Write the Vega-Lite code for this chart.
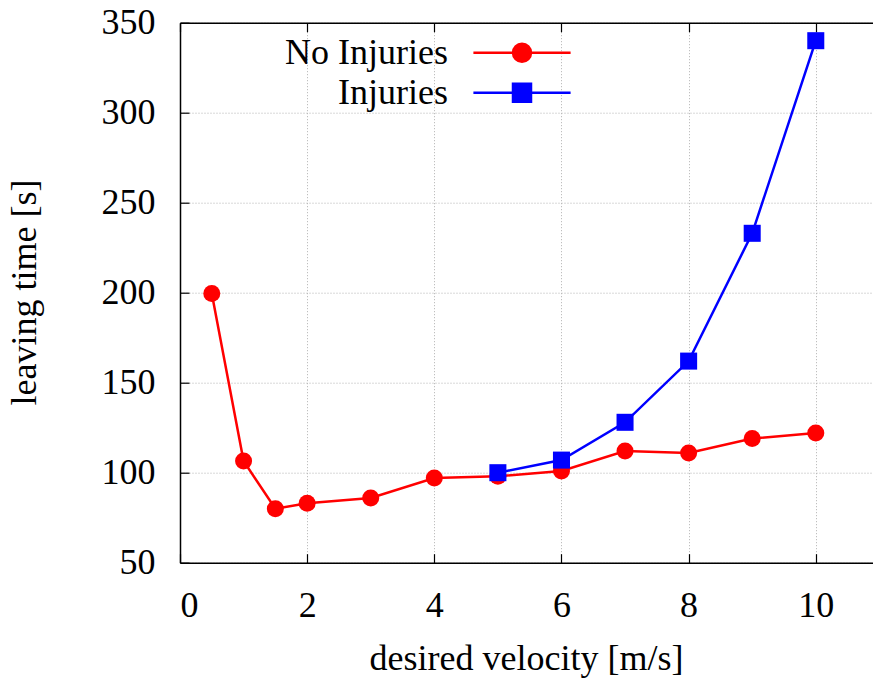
{
  "$schema": "https://vega.github.io/schema/vega-lite/v6.json",
  "width": 693,
  "height": 540,
  "autosize": "none",
  "padding": {"left": 180, "top": 22.7, "right": 0, "bottom": 120.3},
  "background": "white",
  "config": {
    "font": "Liberation Serif",
    "view": {"stroke": null},
    "axis": {
      "labelFont": "Liberation Serif",
      "titleFont": "Liberation Serif",
      "labelFontSize": 36,
      "titleFontSize": 36,
      "titleFontWeight": "normal",
      "labelColor": "#000000",
      "titleColor": "#000000",
      "domainColor": "#000000",
      "domainWidth": 1.5,
      "tickColor": "#000000",
      "tickWidth": 1.2,
      "tickSize": -9,
      "gridColor": "#b0b0b0",
      "gridDash": [1, 2],
      "gridWidth": 1
    },
    "legend": {
      "labelFont": "Liberation Serif",
      "title": null,
      "orient": "none",
      "legendX": 324,
      "legendY": 12,
      "padding": 0,
      "labelFontSize": 36,
      "labelColor": "#000000",
      "labelAlign": "right",
      "labelBaseline": "middle",
      "labelOffset": -92,
      "labelLimit": 0,
      "rowPadding": 4,
      "symbolSize": 324,
      "symbolStrokeWidth": 2.5,
      "symbolOpacity": 1
    }
  },
  "data": {
    "values": [
      {"v": 0.5, "t": 199.5, "series": "No Injuries"},
      {"v": 1, "t": 106.5, "series": "No Injuries"},
      {"v": 1.5, "t": 80, "series": "No Injuries"},
      {"v": 2, "t": 83, "series": "No Injuries"},
      {"v": 3, "t": 86, "series": "No Injuries"},
      {"v": 4, "t": 97, "series": "No Injuries"},
      {"v": 5, "t": 98, "series": "No Injuries"},
      {"v": 6, "t": 101, "series": "No Injuries"},
      {"v": 7, "t": 112, "series": "No Injuries"},
      {"v": 8, "t": 111, "series": "No Injuries"},
      {"v": 9, "t": 119, "series": "No Injuries"},
      {"v": 10, "t": 122, "series": "No Injuries"},
      {"v": 5, "t": 100, "series": "Injuries"},
      {"v": 6, "t": 107, "series": "Injuries"},
      {"v": 7, "t": 128, "series": "Injuries"},
      {"v": 8, "t": 162, "series": "Injuries"},
      {"v": 9, "t": 233, "series": "Injuries"},
      {"v": 10, "t": 340, "series": "Injuries"}
    ]
  },
  "resolve": {"axis": {"x": "independent"}},
  "layer": [
    {
      "mark": {"type": "line", "strokeWidth": 2.5},
      "encoding": {
        "x": {
          "field": "v", "type": "quantitative",
          "scale": {"domain": [0, 10.9], "nice": false, "zero": false},
          "axis": {
            "orient": "bottom",
            "values": [0, 2, 4, 6, 8, 10],
            "format": "d",
            "title": "desired velocity [m/s]",
            "labelBaseline": "alphabetic",
            "labelPadding": 63,
            "titleX": 346,
            "titleY": 107,
            "titleBaseline": "alphabetic",
            "titleAlign": "center",
            "grid": true
          }
        },
        "y": {
          "field": "t", "type": "quantitative",
          "scale": {"domain": [50, 350], "nice": false, "zero": false},
          "axis": {
            "values": [50, 100, 150, 200, 250, 300, 350],
            "title": "leaving time [s]",
            "labelPadding": 34,
            "labelBaseline": "middle",
            "titleAngle": -90,
            "titleX": -144.5,
            "titleY": 269.3,
            "titleBaseline": "alphabetic",
            "titleAlign": "center",
            "grid": true
          }
        },
        "color": {
          "field": "series", "type": "nominal",
          "scale": {"domain": ["No Injuries", "Injuries"], "range": ["#ff0000", "#0000ff"]},
          "legend": {
            "symbolType": {"expr": "datum.value === 'No Injuries' ? 'M-5.4,0L5.4,0M1,0A1,1,0,1,1,-1,0A1,1,0,1,1,1,0Z' : 'M-5.4,0L5.4,0M-1,-1L1,-1L1,1L-1,1Z'"},
            "symbolStrokeColor": {"expr": "scale('color', datum.value)"},
            "symbolFillColor": {"expr": "scale('color', datum.value)"}
          }
        }
      }
    },
    {
      "transform": [{"filter": "datum.series === 'No Injuries'"}],
      "mark": {"type": "point", "filled": true, "opacity": 1, "size": 290, "shape": "circle"},
      "encoding": {
        "x": {
          "field": "v", "type": "quantitative",
          "axis": {
            "orient": "top",
            "values": [0, 2, 4, 6, 8, 10],
            "labels": false,
            "title": null,
            "grid": false
          }
        },
        "y": {"field": "t", "type": "quantitative"},
        "color": {
          "field": "series", "type": "nominal",
          "legend": {
            "symbolType": {"expr": "datum.value === 'No Injuries' ? 'M-5.4,0L5.4,0M1,0A1,1,0,1,1,-1,0A1,1,0,1,1,1,0Z' : 'M-5.4,0L5.4,0M-1,-1L1,-1L1,1L-1,1Z'"},
            "symbolStrokeColor": {"expr": "scale('color', datum.value)"},
            "symbolFillColor": {"expr": "scale('color', datum.value)"}
          }
        }
      }
    },
    {
      "transform": [{"filter": "datum.series === 'Injuries'"}],
      "mark": {"type": "point", "filled": true, "opacity": 1, "size": 290, "shape": "square"},
      "encoding": {
        "x": {"field": "v", "type": "quantitative", "axis": null},
        "y": {"field": "t", "type": "quantitative"},
        "color": {
          "field": "series", "type": "nominal",
          "legend": {
            "symbolType": {"expr": "datum.value === 'No Injuries' ? 'M-5.4,0L5.4,0M1,0A1,1,0,1,1,-1,0A1,1,0,1,1,1,0Z' : 'M-5.4,0L5.4,0M-1,-1L1,-1L1,1L-1,1Z'"},
            "symbolStrokeColor": {"expr": "scale('color', datum.value)"},
            "symbolFillColor": {"expr": "scale('color', datum.value)"}
          }
        }
      }
    }
  ]
}
